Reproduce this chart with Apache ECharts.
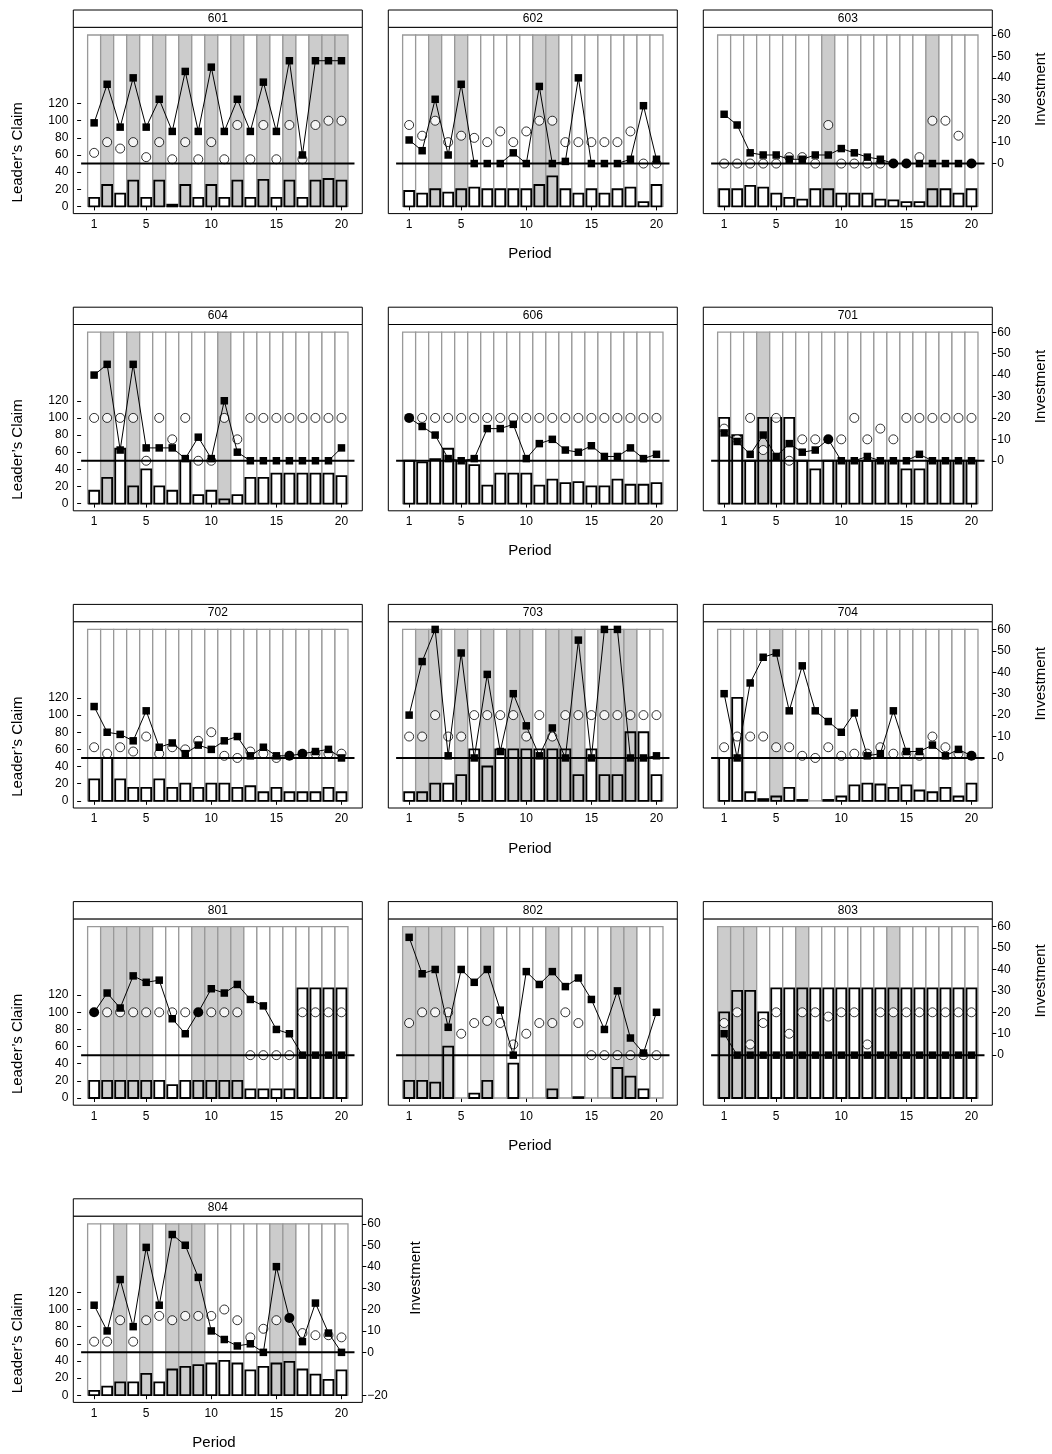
<!DOCTYPE html>
<html><head><meta charset="utf-8">
<script src="https://cdn.jsdelivr.net/npm/echarts@6/dist/echarts.min.js"></script>
<style>html,body{margin:0;padding:0;background:#fff}#c{width:1052px;height:1454px}</style>
</head><body><div id="c"></div>
<script>
// ---------------- data ----------------
const periods = [1,2,3,4,5,6,7,8,9,10,11,12,13,14,15,16,17,18,19,20];
const panelIds = ['601','602','603','604','606','701','702','703','704','801','802','803','804'];
const xTicks = [1,5,10,15,20];
const claimTicks = [0,20,40,60,80,100,120];
const investTicks = [0,10,20,30,40,50,60];
const investTicksLast = [-20,0,10,20,30,40,50,60];

// shade: 1 = grey period column; claim = Leader's Claim bar; square/circle = investment markers
const shade601 = [0,1,0,1,0,1,0,1,0,1,0,1,0,1,0,1,0,1,1,1];
const claim601 = [10,25,15,30,10,30,2,25,10,25,10,30,10,31,10,30,10,30,32,30];
const square601 = [19,37,17,40,17,30,15,43,15,45,15,30,15,38,15,48,4,48,48,48];
const circle601 = [5,10,7,10,3,10,2,10,2,10,2,18,2,18,2,18,2,18,20,20];

const shade602 = [0,0,1,0,1,0,0,0,0,0,1,1,0,0,0,0,0,0,0,0];
const claim602 = [18,15,20,16,20,22,20,20,20,20,25,35,20,15,20,15,20,22,5,25];
const square602 = [11,6,30,4,37,0,0,0,5,0,36,0,1,40,0,0,0,2,27,2];
const circle602 = [18,13,20,10,13,12,10,15,10,15,20,20,10,10,10,10,10,15,0,0];

const shade603 = [0,0,0,0,0,0,0,0,1,0,0,0,0,0,0,0,1,0,0,0];
const claim603 = [20,20,24,22,15,10,8,20,20,15,15,15,8,7,5,5,20,20,15,20];
const square603 = [23,18,5,4,4,2,2,4,4,7,5,3,2,0,0,0,0,0,0,0];
const circle603 = [0,0,0,0,0,3,3,0,18,0,0,0,0,0,0,3,20,20,13,0];

const shade604 = [0,1,0,1,0,0,0,0,0,0,1,0,0,0,0,0,0,0,0,0];
const claim604 = [15,30,64,20,40,20,15,50,10,15,5,10,30,30,35,35,35,35,35,32];
const square604 = [40,45,5,45,6,6,6,1,11,1,28,4,0,0,0,0,0,0,0,6];
const circle604 = [20,20,20,20,0,20,10,20,0,0,20,10,20,20,20,20,20,20,20,20];

const shade606 = [0,0,0,0,0,0,0,0,0,0,0,0,0,0,0,0,0,0,0,0];
const claim606 = [50,48,52,64,50,45,21,35,35,35,21,28,24,25,20,20,28,22,22,24];
const square606 = [20,16,12,1,0,1,15,15,17,1,8,10,5,4,7,2,2,6,1,3];
const circle606 = [20,20,20,20,20,20,20,20,20,20,20,20,20,20,20,20,20,20,20,20];

const shade701 = [0,0,0,1,0,0,0,0,0,0,0,0,0,0,0,0,0,0,0,0];
const claim701 = [100,80,50,100,100,100,50,40,50,50,50,50,50,50,40,40,50,50,50,50];
const square701 = [13,9,3,12,2,8,4,5,10,0,0,2,0,0,0,3,0,0,0,0];
const circle701 = [15,10,20,5,20,0,10,10,10,10,20,10,15,10,20,20,20,20,20,20];

const shade702 = [0,0,0,0,0,0,0,0,0,0,0,0,0,0,0,0,0,0,0,0];
const claim702 = [25,50,25,15,15,25,15,20,15,20,20,15,17,10,15,10,10,10,15,10];
const square702 = [24,12,11,8,22,5,7,2,6,4,8,10,1,5,1,1,2,3,4,0];
const circle702 = [5,2,5,3,10,2,5,4,8,12,1,0,3,2,0,1,2,2,2,2];

const shade703 = [0,1,1,0,1,0,1,0,1,1,0,1,1,1,0,1,1,1,0,0];
const claim703 = [10,10,20,20,30,60,40,60,60,60,60,60,60,30,60,30,30,80,80,30];
const square703 = [20,45,60,1,49,0,39,3,30,15,1,14,0,55,0,60,60,0,0,1];
const circle703 = [10,10,20,10,10,20,20,20,20,10,20,10,20,20,20,20,20,20,20,20];

const shade704 = [0,0,0,0,1,0,0,0,0,0,0,0,0,0,0,0,0,0,0,0];
const claim704 = [50,120,10,2,5,15,1,0,1,5,18,20,19,15,18,12,10,15,5,20];
const square704 = [30,0,35,47,49,22,43,22,17,12,21,1,2,22,3,3,6,1,4,1];
const circle704 = [5,10,10,10,5,5,1,0,5,1,2,2,5,2,2,1,10,5,2,1];

const shade801 = [0,1,1,1,1,0,0,0,1,1,1,1,0,0,0,0,0,0,0,0];
const claim801 = [20,20,20,20,20,20,15,20,20,20,20,20,10,10,10,10,128,128,128,128];
const square801 = [20,29,22,37,34,35,17,10,20,31,29,33,26,23,12,10,0,0,0,0];
const circle801 = [20,20,20,20,20,20,20,20,20,20,20,20,0,0,0,0,20,20,20,20];

const shade802 = [1,1,1,1,0,0,1,0,0,0,0,1,0,0,0,0,1,1,0,0];
const claim802 = [20,20,18,60,0,5,20,0,40,0,0,10,0,1,0,0,35,25,10,0];
const square802 = [55,38,40,13,40,34,40,21,0,39,33,39,32,36,26,12,30,8,1,20];
const circle802 = [15,20,20,20,10,15,16,15,5,10,15,15,20,15,0,0,0,0,0,0];

const shade803 = [1,1,1,0,0,0,1,0,0,0,0,0,0,1,0,0,0,0,0,0];
const claim803 = [100,125,125,100,128,128,128,128,128,128,128,128,128,128,128,128,128,128,128,128];
const square803 = [10,0,0,0,0,0,0,0,0,0,0,0,0,0,0,0,0,0,0,0];
const circle803 = [15,20,5,15,20,10,20,20,18,20,20,5,20,20,20,20,20,20,20,20];

const shade804 = [0,0,1,0,1,0,1,1,1,0,0,0,0,0,1,1,0,0,0,0];
const claim804 = [5,10,15,15,25,15,30,33,35,37,40,37,29,33,37,39,30,24,18,29];
const square804 = [22,10,34,12,49,22,55,50,35,10,6,3,4,0,40,16,5,23,9,0];
const circle804 = [5,5,15,5,15,17,15,17,17,17,20,15,7,11,15,16,9,8,8,7];

const panelData = {
  '601': [shade601, claim601, square601, circle601],
  '602': [shade602, claim602, square602, circle602],
  '603': [shade603, claim603, square603, circle603],
  '604': [shade604, claim604, square604, circle604],
  '606': [shade606, claim606, square606, circle606],
  '701': [shade701, claim701, square701, circle701],
  '702': [shade702, claim702, square702, circle702],
  '703': [shade703, claim703, square703, circle703],
  '704': [shade704, claim704, square704, circle704],
  '801': [shade801, claim801, square801, circle801],
  '802': [shade802, claim802, square802, circle802],
  '803': [shade803, claim803, square803, circle803],
  '804': [shade804, claim804, square804, circle804]
};

// ---------------- layout / style ----------------
const FONT = '"Liberation Sans", Arial, Helvetica, sans-serif';
const LMIN = -8.4, LMAX = 209;
const IMIN = (LMIN - 50) * 0.4, IMAX = (LMAX - 50) * 0.4;
const XMIN = -0.6, XMAX = 21.6;
const COLL = [73.3, 388.3, 703.3];
const PW = 289, PH = 186.3, TOP0 = 27.3, RSTEP = 297.2, STRIPH = 17.3;
const GREY = '#cccccc';
const COLBORDER = '#999999';

function bgRender(params, api) {
  const p = api.value(0), s = api.value(1);
  const a = api.coord([p - 0.5, 200]);
  const b = api.coord([p + 0.5, 0]);
  return { type: 'rect', shape: { x: a[0], y: a[1], width: b[0] - a[0], height: b[1] - a[1] },
    style: { fill: s ? GREY : '#ffffff', stroke: COLBORDER, lineWidth: 1.3 } };
}
function barRender(params, api) {
  const p = api.value(0), h = api.value(1), s = api.value(2);
  if (!h) return null;
  const a = api.coord([p - 0.38, h]);
  const b = api.coord([p + 0.38, 0]);
  return { type: 'rect', shape: { x: a[0], y: a[1], width: b[0] - a[0], height: b[1] - a[1] },
    style: { fill: s ? GREY : '#ffffff', stroke: '#000000', lineWidth: 1.8 } };
}
function minusFmt(v) { return v < 0 ? '\u2212' + Math.abs(v) : String(v); }

const grids = [], xAxes = [], yAxes = [], series = [], graphics = [];
const labelStyle = { fontSize: 12, color: '#000', fontFamily: FONT };

panelIds.forEach((id, i) => {
  const r = Math.floor(i / 3), c = i % 3;
  const left = COLL[c], top = TOP0 + r * RSTEP;
  const isLast = id === '804';
  const [shade, claim, square, circle] = panelData[id];
  grids.push({ left: left, top: top, width: PW, height: PH, show: true,
    borderColor: '#000', borderWidth: 1, backgroundColor: '#fff' });
  xAxes.push({ gridIndex: i, type: 'value', min: XMIN, max: XMAX,
    axisLine: { show: false }, splitLine: { show: false },
    axisTick: { show: true, inside: false, length: 4, customValues: xTicks, lineStyle: { color: '#000' } },
    axisLabel: Object.assign({ show: true, margin: 5, customValues: xTicks }, labelStyle) });
  yAxes.push({ gridIndex: i, type: 'value', position: 'left', min: LMIN, max: LMAX,
    show: c === 0,
    axisLine: { show: false }, splitLine: { show: false },
    axisTick: { show: true, inside: false, length: 4, customValues: claimTicks, lineStyle: { color: '#000' } },
    axisLabel: Object.assign({ show: true, margin: 5, customValues: claimTicks }, labelStyle) });
  const rTicks = isLast ? investTicksLast : investTicks;
  yAxes.push({ gridIndex: i, type: 'value', position: 'right', min: IMIN, max: IMAX,
    show: c === 2 || isLast,
    axisLine: { show: false }, splitLine: { show: false },
    axisTick: { show: true, inside: false, length: 4, customValues: rTicks, lineStyle: { color: '#000' } },
    axisLabel: Object.assign({ show: true, margin: 5, customValues: rTicks, formatter: minusFmt }, labelStyle) });

  series.push({ type: 'custom', xAxisIndex: i, yAxisIndex: 2 * i, silent: true,
    encode: { x: 0, y: 1 }, renderItem: bgRender,
    data: periods.map((p, k) => [p, shade[k]]) });
  series.push({ type: 'custom', xAxisIndex: i, yAxisIndex: 2 * i, silent: true,
    encode: { x: 0, y: 1 }, renderItem: barRender,
    data: periods.map((p, k) => [p, claim[k], shade[k]]) });
  series.push({ type: 'line', xAxisIndex: i, yAxisIndex: 2 * i + 1, silent: true,
    symbol: 'none', lineStyle: { color: '#000', width: 2 },
    data: [[0, 0], [21, 0]] });
  series.push({ type: 'scatter', xAxisIndex: i, yAxisIndex: 2 * i + 1, silent: true,
    symbol: 'circle', symbolSize: 9,
    itemStyle: { color: '#fff', borderColor: '#000', borderWidth: 1 },
    data: periods.map((p, k) => circle[k] === square[k] ? null : [p, circle[k]]).filter(d => d) });
  series.push({ type: 'line', xAxisIndex: i, yAxisIndex: 2 * i + 1, silent: true,
    symbol: 'rect', symbolSize: 7.5, showSymbol: true, showAllSymbol: true,
    itemStyle: { color: '#000', borderWidth: 0 }, lineStyle: { color: '#000', width: 1 },
    data: periods.map((p, k) => circle[k] === square[k]
      ? { value: [p, square[k]], symbol: 'circle', symbolSize: 10 }
      : [p, square[k]]) });

  // strip
  graphics.push({ type: 'rect', shape: { x: left, y: top - STRIPH, width: PW, height: STRIPH },
    style: { fill: '#fff', stroke: '#000', lineWidth: 1 }, z: 10 });
  graphics.push({ type: 'text', x: left + PW / 2, y: top - STRIPH / 2, z: 11,
    style: { text: id, fontSize: 12, fontFamily: FONT, fill: '#000',
      align: 'center', verticalAlign: 'middle', textAlign: 'center', textVerticalAlign: 'middle' } });
  if (c === 0) {
    graphics.push({ type: 'text', x: 18, y: top + (isLast ? 127 : 125), rotation: Math.PI / 2, z: 11,
      style: { text: 'Leader\u2019s Claim', fontSize: 15, fontFamily: FONT, fill: '#000',
        align: 'center', verticalAlign: 'middle', textAlign: 'center', textVerticalAlign: 'middle' } });
  }
  if (c === 2 || isLast) {
    graphics.push({ type: 'text', x: isLast ? 416 : 1041, y: top + 62, rotation: Math.PI / 2, z: 11,
      style: { text: 'Investment', fontSize: 15, fontFamily: FONT, fill: '#000',
        align: 'center', verticalAlign: 'middle', textAlign: 'center', textVerticalAlign: 'middle' } });
  }
  if (c === 1 || isLast) {
    graphics.push({ type: 'text', x: isLast ? 214 : 530, y: top + PH + 40.5, z: 11,
      style: { text: 'Period', fontSize: 15, fontFamily: FONT, fill: '#000',
        align: 'center', verticalAlign: 'middle', textAlign: 'center', textVerticalAlign: 'middle' } });
  }
});

const chart = echarts.init(document.getElementById('c'), null, { renderer: 'canvas' });
chart.setOption({
  animation: false,
  backgroundColor: '#fff',
  grid: grids, xAxis: xAxes, yAxis: yAxes, series: series, graphic: graphics
});
</script>
</body></html>
